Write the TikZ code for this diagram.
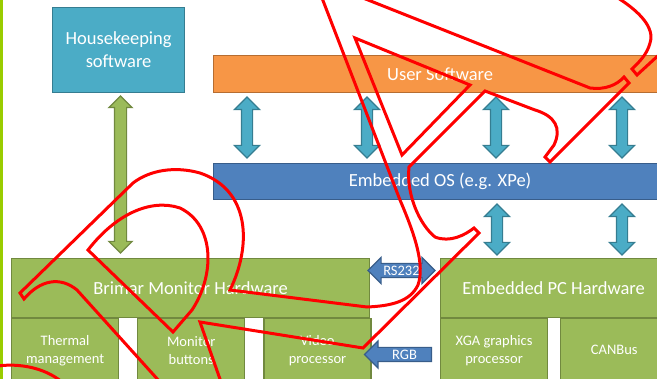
\documentclass[tikz,border=0pt]{standalone}
\usepackage{fontspec}
\setmainfont{Carlito}
\usetikzlibrary{shapes.arrows, positioning}
\definecolor{tealfill}{HTML}{4BACC6}
\definecolor{tealline}{HTML}{357D91}
\definecolor{greenfill}{HTML}{9BBB59}
\definecolor{greenline}{HTML}{71893F}
\definecolor{orangefill}{HTML}{F79646}
\definecolor{orangeline}{HTML}{B66D31}
\definecolor{bluefill}{HTML}{4F81BD}
\definecolor{blueline}{HTML}{385D8A}
\definecolor{limeline}{HTML}{99CC00}
\tikzset{x = 1pt, y = -1pt,
         every node/.style = {text = white, inner sep = 0pt},
         block/.style = {draw, line width = 1.2pt, anchor = north west, align = center,
                         font = \fontsize{18.5}{23}\selectfont},
         hwbox/.style = {block, fill = greenfill, draw = greenline},
         subbox/.style = {hwbox, minimum width = 107pt, minimum height = 63pt,
                          font = \fontsize{14.5}{18}\selectfont},
         updown/.style = {double arrow, draw = tealline, fill = tealfill, line width = 1.2pt,
                          rotate = 90, minimum height = #1, inner ysep = 5pt,
                          double arrow head extend = 7pt},
         sidearrow/.style = {draw = blueline, fill = bluefill, line width = 1.2pt,
                             minimum height = 67pt, inner ysep = 6.5pt},
         arrowtext/.style = {font = \fontsize{14.5}{17}\selectfont},
         redpen/.style = {draw = red, line width = 3pt}}

\begin{document}
\begin{tikzpicture}
        \useasboundingbox (0,0) rectangle (657,379);
        \clip (0,0) rectangle (657,379);
        \fill[limeline] (0,0) rectangle (3,379);

        \node[block, fill = tealfill, draw = tealline, minimum width = 132pt, minimum height = 85pt] (house) at (52,7) {Housekeeping\\software};
        \node[block, fill = orangefill, draw = orangeline, minimum width = 453pt, minimum height = 37pt] (usersw) at (213,55) {User Software};
        \node[block, fill = bluefill, draw = blueline, minimum width = 453pt, minimum height = 36pt] (embos) at (213,163) {Embedded OS (e.g. XPe)};

        \node[hwbox, minimum width = 358pt, minimum height = 59pt] (brimar) at (11,258) {Brimar Monitor Hardware};
        \node[subbox] (thermal) at (brimar.south west) {Thermal\\management};
        \node[subbox, right = 18pt of thermal] (buttons) {Monitor\\buttons};
        \node[subbox, right = 18pt of buttons] (video) {Video\\processor};

        \node[hwbox, minimum width = 226pt, minimum height = 59pt] (pchw) at (440,258) {Embedded PC Hardware};
        \node[subbox] (xga) at (pchw.south west) {XGA graphics\\processor};
        \node[subbox, right = 12pt of xga] (canbus) {CANBus};

        \node[updown = 157pt, fill = greenfill, draw = greenline, inner ysep = 5.5pt, double arrow head extend = 5.5pt] (hklink) at (120.5,174.5) {};
        \foreach \x in {247, 367, 496, 622}
            \node[updown = 61pt] (swlink\x) at (\x,127.5) {};
        \foreach \x in {497, 622}
            \node[updown = 51pt] (hwlink\x) at (\x,229.5) {};

        \node[sidearrow, double arrow, double arrow head extend = 6pt, label = {[arrowtext]center:RS232}] (rs232) at (401.5,270.5) {};
        \node[sidearrow, single arrow, shape border rotate = 180, single arrow head extend = 6.5pt, label = {[arrowtext, xshift = 3pt]center:RGB}] (rgb) at (401.5,354.5) {};

        \draw[redpen] (322,-2) -- (400,200) .. controls (415,235) and (425,265) .. (418,285)
                      .. controls (410,302) and (390,306) .. (367,307) -- (230,290)
                      .. controls (252,245) and (250,190) .. (200,173)
                      .. controls (175,166) and (150,170) .. (133,183) -- (20,293) -- (24,299)
                      .. controls (40,280) and (60,276) .. (77,290) -- (160,382);
        \draw[redpen] (88,250) -- (173,332) -- (192,310) .. controls (215,275) and (215,225) .. (180,208)
                      .. controls (150,198) and (115,215) .. cycle;
        \draw[redpen] (355,38) -- (470,85) -- (402,155) -- cycle;
        \draw[redpen] (363,-2) -- (590,88) .. controls (605,90) and (617,85) .. (624,77) -- (629,83) -- (550,162)
                      -- (545,157) -- (554,145) .. controls (562,128) and (555,116) .. (535,110) -- (485,91)
                      -- (409,167) .. controls (406,195) and (420,225) .. (435,237)
                      .. controls (450,243) and (465,235) .. (474,228) -- (479,233) -- (363,348)
                      -- (200,322) -- (221,382);
        \draw[redpen] (618,-2) .. controls (640,12) and (655,28) .. (650,43)
                      .. controls (647,55) and (638,63) .. (632,69) -- (637,75) -- (662,52);
        \draw[redpen] (-2,366) .. controls (20,363) and (45,368) .. (62,382);
    \end{tikzpicture}
\end{document}
